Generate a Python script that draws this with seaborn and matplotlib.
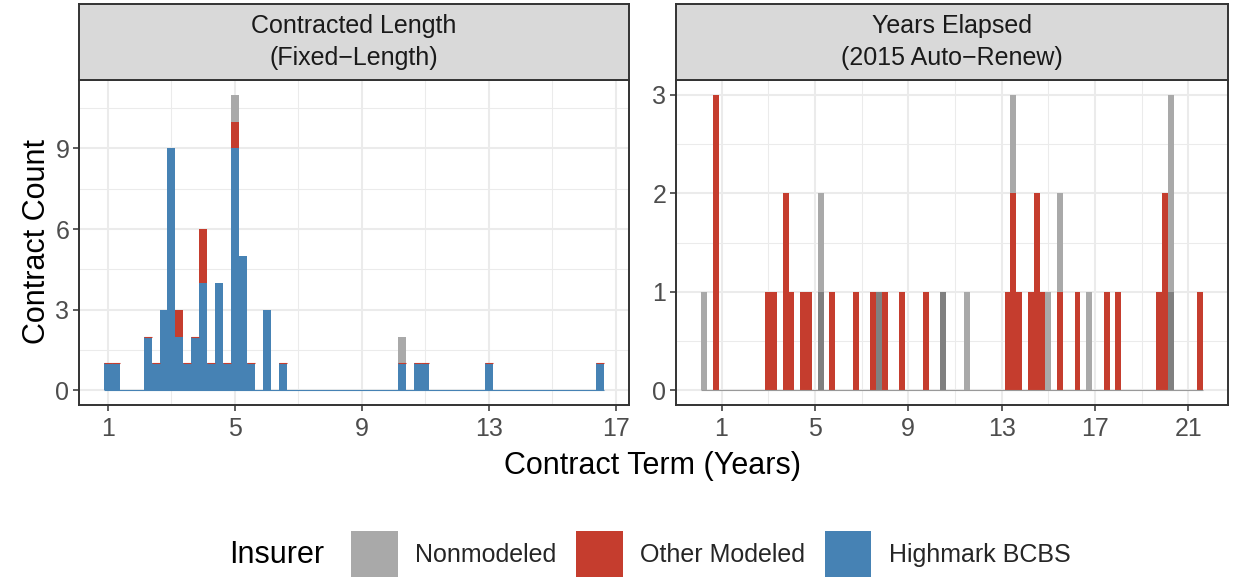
import numpy as np
import pandas as pd
import matplotlib
matplotlib.use("Agg")
import matplotlib.pyplot as plt
from matplotlib.patches import Patch
import seaborn as sns

# Fill levels, top of the stack first (ggplot order)
insurers = ["Nonmodeled", "Other Modeled", "Highmark BCBS"]
colors = {"Nonmodeled": "#A9A9A9", "Other Modeled": "#C53D2E",
          "Highmark BCBS": "#4682B4", "Nonmodeled (overlap)": "#808080"}

facet_titles = ["Contracted Length\n(Fixed\u2212Length)",
                "Years Elapsed\n(2015 Auto\u2212Renew)"]

bin_width = 0.25

# Left facet: contracted length, bin centres (years) and counts
fixed_highmark_x = [1.0, 1.25, 2.25, 2.5, 2.75, 3.0, 3.25, 3.5, 3.75, 4.0, 4.25,
                    4.5, 4.75, 5.0, 5.25, 5.5, 6.0, 6.5, 10.25, 10.75, 11.0, 13.0, 16.5]
fixed_highmark_n = [1, 1, 2, 1, 3, 9, 2, 1, 2, 4, 1, 4, 1, 9, 5, 1, 3, 1, 1, 1, 1, 1, 1]
fixed_other_x = [3.25, 4.0, 5.0]
fixed_other_n = [1, 2, 1]
fixed_nonmod_x = [5.0, 10.25]
fixed_nonmod_n = [1, 1]

# Right facet: years elapsed (2015 auto-renew)
renew_other_x = [0.75, 3.0, 3.25, 3.75, 4.0, 4.5, 4.75, 5.75, 6.75, 7.5, 8.0, 8.75,
                 9.75, 13.25, 13.5, 13.75, 14.25, 14.5, 14.75, 15.5, 16.25, 17.5,
                 18.0, 19.75, 20.0, 21.5]
renew_other_n = [3, 1, 1, 2, 1, 1, 1, 1, 1, 1, 1, 1, 1, 1, 2, 1, 1, 2, 1, 1, 1, 1,
                 1, 1, 2, 1]
renew_nonmod_x = [0.25, 5.25, 11.5, 13.5, 15.0, 15.5, 16.75, 20.25]
renew_nonmod_n = [1, 1, 1, 1, 1, 1, 1, 2]
# darker (overlapping) nonmodeled segments at the bottom of a few bars
renew_overlap_x = [5.25, 7.75, 10.5, 20.25]
renew_overlap_n = [1, 1, 1, 1]


def long_frame(parts):
    rows = []
    for name, xs, ns in parts:
        for x, n in zip(xs, ns):
            rows.append({"term": x, "n": n, "insurer": name})
    return pd.DataFrame(rows)


fixed_df = long_frame([("Nonmodeled", fixed_nonmod_x, fixed_nonmod_n),
                       ("Other Modeled", fixed_other_x, fixed_other_n),
                       ("Highmark BCBS", fixed_highmark_x, fixed_highmark_n)])
renew_df = long_frame([("Nonmodeled", renew_nonmod_x, renew_nonmod_n),
                       ("Other Modeled", renew_other_x, renew_other_n),
                       ("Nonmodeled (overlap)", renew_overlap_x, renew_overlap_n)])

sns.set_theme(style="white")
plt.rcParams["font.family"] = ["Liberation Sans", "DejaVu Sans"]

W, H = 1233, 578
fig = plt.figure(figsize=(W / 100, H / 100), dpi=100)

panel_top, panel_bottom, strip_top = 80, 405, 4
panels = [(79, 629), (676, 1228)]

frames = [fixed_df, renew_df]
major_y = [3, 1]
baseline_colors = [colors["Highmark BCBS"], "#999999"]
full_order = insurers + ["Nonmodeled (overlap)"]

for i, (df, (x0, x1)) in enumerate(zip(frames, panels)):
    ax = fig.add_axes([x0 / W, 1 - panel_bottom / H, (x1 - x0) / W,
                       (panel_bottom - panel_top) / H])
    order = [lv for lv in full_order if lv in set(df["insurer"])]
    lo = df["term"].min() - bin_width / 2
    hi = df["term"].max() + bin_width / 2

    ax.set_axisbelow(True)
    sns.histplot(data=df, x="term", weights="n", hue="insurer", hue_order=order,
                 palette=colors, multiple="stack", binwidth=bin_width,
                 binrange=(lo, hi), linewidth=0, alpha=1, legend=False, ax=ax)

    # zero-count bins show as a thin line along the bottom
    ax.hlines(0, lo, hi, color=baseline_colors[i], lw=0.8, zorder=3)

    totals = df.groupby("term")["n"].sum()
    ymax = totals.max()
    span = hi - lo
    ax.set_xlim(lo - 0.05 * span, hi + 0.05 * span)
    ax.set_ylim(-0.05 * ymax, 1.05 * ymax)

    if i == 0:
        # the empty "Other Modeled" layer leaves a faint red cap on the short blue bars
        wide = df.pivot_table(index="term", columns="insurer", values="n",
                              aggfunc="sum", fill_value=0)
        capped = wide[(wide["Other Modeled"] == 0) & (wide["Highmark BCBS"] <= 2)]
        ax.hlines(capped["Highmark BCBS"], capped.index - bin_width / 2,
                  capped.index + bin_width / 2, color=colors["Other Modeled"],
                  lw=0.8, zorder=3)

    xt = np.arange(1, ax.get_xlim()[1] + 0.01, 4)
    ax.set_xticks(xt)
    ax.set_xticks(np.arange(3, ax.get_xlim()[1], 4), minor=True)
    yt = np.arange(0, ymax + 0.01, major_y[i])
    ax.set_yticks(yt)
    ax.set_yticks(np.arange(major_y[i] / 2, 1.05 * ymax, major_y[i]), minor=True)
    ax.set_xticklabels([f"{v:g}" for v in xt])
    ax.set_yticklabels([f"{v:g}" for v in yt])
    ax.grid(which="major", color="#EBEBEB", lw=1.5)
    ax.grid(which="minor", color="#EBEBEB", lw=0.75)
    ax.tick_params(which="major", length=4, width=1.1, color="#333333",
                   labelsize=18, labelcolor="#4D4D4D", pad=3,
                   bottom=True, left=True)
    ax.tick_params(axis="x", which="major", pad=5)
    ax.tick_params(which="minor", length=0)
    ax.set_xlabel("")
    ax.set_ylabel("")
    for sp in ax.spines.values():
        sp.set_visible(True)
        sp.set_color("#333333")
        sp.set_linewidth(1.4)

    # facet strip
    sax = fig.add_axes([x0 / W, 1 - panel_top / H, (x1 - x0) / W,
                        (panel_top - strip_top) / H])
    sax.set_facecolor("#D9D9D9")
    sax.set_xticks([])
    sax.set_yticks([])
    for sp in sax.spines.values():
        sp.set_color("#333333")
        sp.set_linewidth(1.4)
    sax.text(0.5, 0.5, facet_titles[i], ha="center", va="center",
             fontsize=18, color="#1A1A1A", linespacing=1.4,
             transform=sax.transAxes)

fig.text(37 / W, 1 - 242 / H, "Contract Count", rotation=90, ha="center",
         va="center", fontsize=22, color="black")
fig.text(653 / W, 1 - 466 / H, "Contract Term (Years)", ha="center",
         va="center", fontsize=22, color="black")

# legend along the bottom
fig.text(229 / W, 1 - 555 / H, "Insurer", ha="left", va="center",
         fontsize=22, color="black")
handles = [Patch(facecolor=colors[k], edgecolor="none") for k in insurers]
fig.legend(handles, insurers, loc="center", ncol=3,
           bbox_to_anchor=(711 / W, 1 - 554 / H), frameon=False,
           fontsize=18, handlelength=1.85, handleheight=2.4,
           handletextpad=0.7, columnspacing=0.8, borderpad=0, borderaxespad=0)

fig.savefig("out.png", dpi=100)
